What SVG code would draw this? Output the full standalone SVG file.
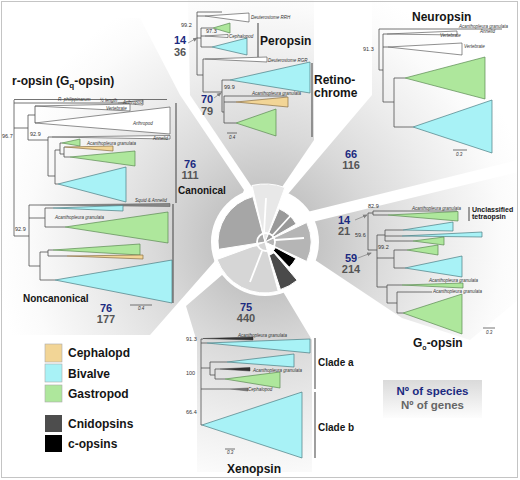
<svg xmlns="http://www.w3.org/2000/svg" width="520" height="480" viewBox="0 0 520 480">
<defs>
<radialGradient id="beamG" gradientUnits="userSpaceOnUse" cx="265" cy="242" r="270">
<stop offset="0" stop-color="#b3b3b3"/><stop offset="0.2" stop-color="#c5c5c5"/><stop offset="0.4" stop-color="#d9d9d9"/><stop offset="0.65" stop-color="#ececec"/><stop offset="0.88" stop-color="#fbfbfb"/><stop offset="1" stop-color="#fff"/>
</radialGradient>
<linearGradient id="keyG" x1="0" y1="0" x2="0" y2="1"><stop offset="0" stop-color="#dadada"/><stop offset="1" stop-color="#fdfdfd"/></linearGradient>
<marker id="ah" markerWidth="5" markerHeight="5" refX="4" refY="2.5" orient="auto" markerUnits="userSpaceOnUse"><path d="M0,0.5 L5,2.5 L0,4.5 Z" fill="#808080"/></marker>
<style>
.beam{fill:url(#beamG)}
.ln{fill:none;stroke:#505050;stroke-width:0.8}
.br{fill:none;stroke:#505050;stroke-width:1.1}
.cy{fill:#a8f2f6;stroke:#4a7c82;stroke-width:0.7}
.gr{fill:#aee79c;stroke:#5a8a52;stroke-width:0.7}
.or{fill:#f2d596;stroke:#8a7045;stroke-width:0.7}
.wt{fill:#fff;stroke:#444;stroke-width:0.6}
.dk{fill:#333;stroke:#333;stroke-width:0.5}
text{font-family:"Liberation Sans",Arial,sans-serif}
.tiny{font-size:4.5px;font-style:italic;fill:#333}
.bs{font-size:5.5px;fill:#333}
.ttl{font-size:12px;font-weight:bold;fill:#151515}
.lab{font-size:10px;font-weight:bold;fill:#151515}
.ns{font-size:11px;font-weight:bold;fill:#1b2a80;text-anchor:middle}
.ng{font-size:11px;font-weight:bold;fill:#555;text-anchor:middle}
.leg{font-size:12px;font-weight:bold;fill:#151515}
.sec{stroke:#fff;stroke-width:1}
.arr{fill:none;stroke:#808080;stroke-width:0.7;marker-end:url(#ah)}
</style>
</defs>
<rect x="0" y="0" width="520" height="480" fill="#fff"/>
<g id="beams">
<polygon class="beam" points="244,190 180,95 140,18 0,18 0,335 150,335 214,262"/>
<polygon class="beam" points="254,190 190,95 188,0 314,0 314,140 280,190"/>
<polygon class="beam" points="288,194 372,95 372,0 518,0 518,160 299,214"/>
<polygon class="beam" points="304,224 518,172 518,300 470,340 402,318 309,256"/>
<polygon class="beam" points="222,275 186,306 197,342 197,472 312,472 312,340 282,290"/>
</g>
<rect x="1.5" y="1.5" width="516" height="476" fill="none" stroke="#c4c4c4" stroke-width="1"/>
<g id="wheel">
<circle cx="265" cy="242" r="54" fill="#fff"/>
<path class="sec" fill="#a6a6a6" d="M265,242 L218.58,249.35 A47,47 0 0 1 252.84,196.6 Z"/>
<path class="sec" fill="#e8e8e8" stroke="#bbb" d="M265,242 L251.95,185.49 A58,58 0 0 1 284.84,187.5 Z"/>
<path class="sec" fill="#999" d="M265,242 L279.07,208.86 A36,36 0 0 1 296.18,224 Z"/>
<path class="sec" fill="#b5b5b5" d="M265,242 L306.69,222.56 A46,46 0 0 1 306.69,261.44 Z"/>
<path class="sec" fill="#000" d="M275.59,247.63 L295.9,258.43 A35,35 0 0 1 289.31,267.18 L273.34,250.63 Z"/>
<path class="sec" fill="#4a4a4a" d="M274,252.72 L297.14,280.3 A50,50 0 0 1 280.45,289.55 L269.33,255.32 Z"/>
<path class="sec" fill="#d6d6d6" d="M265,242 L278.2,291.26 A51,51 0 0 1 217.08,259.44 Z"/>
<g stroke="#fff" stroke-width="1.8" fill="none">
<circle cx="266" cy="242" r="9"/>
<path d="M258,245 L222,252"/>
<path d="M264,233 L266,198"/>
<path d="M272,236 L293,213"/>
<path d="M275,240 L304,238"/>
<path d="M271,249 L283,262"/>
<path d="M262,251 L250,282"/>
</g>
</g>
<g id="r-opsin">
<text class="ttl" x="12" y="85">r-opsin (G<tspan font-size="8" dy="3">q</tspan><tspan dy="-3">-opsin)</tspan></text>
<path class="ln" d="M14,100 V236 M14,99.5 H167 M14,103 H118 M14,128 H28 M28,115 V140 M28,115 H35 M35,106 V123 M28,140 H48 M48,137 V176 M48,137 H52 M48,176 H55 M55,150 V184 M55,150 H60 M60,143 V154 M60,143 H62 M60,154 H64 M64,147 V157 M64,147 H65 M64,157 H70 M55,184 H58 M14,236 H29 M29,205 V266 M29,205 H40 M29,218 H45 M45,208 V227 M45,208 H53 M45,227 H65 M29,266 H40 M40,252 V280 M40,252 H48 M48,250 V256 M48,250 H53 M48,256 H67 M40,280 H55"/>
<path class="wt" d="M118,103 L143,100 L143,105 Z"/>
<path class="wt" d="M35,106 L130,104 L130,111 Z"/>
<path class="wt" d="M35,123 L170,107 L170,134 Z"/>
<path class="wt" d="M52,137 L170,135.5 L170,139 Z"/>
<path class="gr" d="M62,143 L80,139 L80,146 Z"/>
<path class="or" d="M65,147 L113,146 L113,151 Z"/>
<path class="gr" d="M70,157 L135,151 L135,166 Z"/>
<path class="cy" d="M58,184 L126,167 L126,202 Z"/>
<path fill="#888" stroke="#555" stroke-width="0.5" d="M40,205 L170,203.5 L170,206.5 Z"/>
<path class="cy" d="M53,208 L123,205.5 L123,211 Z"/>
<path class="gr" d="M65,227 L168,212 L168,243 Z"/>
<path class="gr" d="M53,250 L140,244 L140,255 Z"/>
<path class="or" d="M67,256 L143,255 L143,259 Z"/>
<path class="cy" d="M55,280 L172,260 L172,303 Z"/>
<path class="br" d="M176,103 V203 M173,204 V303"/>
<path class="ln" d="M130,305 H152"/>
<text class="tiny" x="58" y="101">R. philippinarum</text>
<text class="tiny" x="100" y="102" font-size="3.5">½ length</text>
<text class="tiny" x="123" y="103.8" font-style="normal" font-size="4">Arthropod</text>
<text class="tiny" x="106" y="110" font-style="normal">Vertebrate</text>
<text class="tiny" x="133" y="125" font-style="normal">Arthropod</text>
<text class="tiny" x="153" y="139.8" font-style="normal">Annelid</text>
<text class="tiny" x="87" y="145">Acanthopleura granulata</text>
<text class="tiny" x="135" y="202" font-style="normal">Squid &amp; Annelid</text>
<text class="tiny" x="55" y="219">Acanthopleura granulata</text>
<text class="tiny" x="138" y="310" font-style="normal">0.4</text>
<text class="bs" x="2" y="138">96.7</text>
<text class="bs" x="30" y="136">92.9</text>
<text class="bs" x="15" y="231">92.9</text>
<text class="lab" x="178" y="194">Canonical</text>
<text class="lab" x="23" y="302">Noncanonical</text>
<text class="ns" x="190" y="168">76</text>
<text class="ng" x="190" y="179">111</text>
<text class="ns" x="106" y="312">76</text>
<text class="ng" x="106" y="323">177</text>
</g>
<g id="peropsin-retinochrome">
<path class="ln" d="M197,12 V75 M197,12 H222 M197,16 H205 M197,38 H201 M201,28 V47 M201,28 H213 M201,36 H205 M201,47 H212 M197,75 H203 M203,59 V92 M203,59 H205 M203,92 H222 M222,80 V112 M222,80 H230 M222,112 H224 M224,96 V123 M224,96 H287 M224,102 H236 M224,123 H236 M227,133 H237"/>
<path class="wt" d="M205,16 L249,13 L249,22 Z"/>
<path class="gr" d="M213,28 L230,23 L230,33 Z"/>
<path class="wt" d="M205,36 L228,34.5 L228,37.5 Z"/>
<path class="cy" d="M212,47 L247,38 L247,55 Z"/>
<path class="wt" d="M205,59 L267,57 L267,62 Z"/>
<path class="cy" d="M230,80 L310,62 L310,93 Z"/>
<path class="or" d="M236,102 L288,97 L288,107 Z"/>
<path class="gr" d="M236,123 L276,109 L276,136 Z"/>
<path class="br" d="M258,23 V57 M312,63 V137"/>
<text class="tiny" x="251" y="18.5" font-style="normal">Deuterostome RRH</text>
<text class="tiny" x="229" y="37.5" font-style="normal">Cephalopod</text>
<text class="tiny" x="268" y="61.5" font-style="normal">Deuterostome RGR</text>
<text class="tiny" x="252" y="95">Acanthopleura granulata</text>
<text class="tiny" x="229" y="139" font-style="normal">0.4</text>
<text class="bs" x="181" y="27">99.2</text>
<text class="bs" x="206" y="33">97.3</text>
<text class="bs" x="224" y="89">99.9</text>
<text class="ttl" x="260" y="45">Peropsin</text>
<text class="ttl" x="314" y="84" font-size="13">Retino-</text>
<text class="ttl" x="314" y="97" font-size="13">chrome</text>
<text class="ns" x="180" y="44">14</text>
<text class="ng" x="180" y="56">36</text>
<text class="ns" x="207" y="103">70</text>
<text class="ng" x="207" y="115">79</text>
</g>
<g id="neuropsin">
<path class="ln" d="M379,29 V70 M379,29 H502 M379,70 H383 M383,34 V102 M383,34 H387 M383,47 H388 M383,102 H394 M394,78 V127 M394,78 H405 M394,127 H413 M453,150 H467"/>
<path class="wt" d="M387,34 L457,31 L457,35 Z"/>
<path class="wt" d="M388,47 L462,43 L462,55 Z"/>
<path class="gr" d="M405,78 L485,57 L485,99 Z"/>
<path class="cy" d="M413,127 L492,100 L492,153 Z"/>
<text class="tiny" x="459" y="28">Acanthopleura granulata</text>
<text class="tiny" x="480" y="33" font-style="normal">Annelid</text>
<text class="tiny" x="440" y="37" font-style="normal">Vertebrate</text>
<text class="tiny" x="464" y="48" font-style="normal">Vertebrate</text>
<text class="tiny" x="456" y="155.5" font-style="normal">0.3</text>
<text class="bs" x="363" y="51">91.3</text>
<text class="ttl" x="412" y="21">Neuropsin</text>
<text class="ns" x="351" y="158">66</text>
<text class="ng" x="351" y="169">116</text>
</g>
<g id="go-opsin">
<path class="ln" d="M373,211 V215 M373,211 H457 M373,215 H388 M368,213 V250 M368,213 H373 M368,250 H377 M377,235 V287 M377,235 H385 M385,230 V241 M385,230 H403 M385,236 H402 M385,241 H413 M377,258 H394 M394,250 V268 M394,250 H407 M394,268 H405 M377,287 H387 M387,285 V303 M387,285 H402 M387,303 H397 M397,292 V313 M397,292 H432 M397,313 H403 M483,328 H495"/>
<path class="gr" d="M388,215 L458,211.5 L458,221 Z"/>
<path class="cy" d="M403,230 L453,222 L453,231 Z"/>
<path class="cy" d="M402,236 L482,232 L482,237 Z"/>
<path class="gr" d="M413,241 L444,237 L444,245 Z"/>
<path class="gr" d="M407,250 L438,245 L438,255 Z"/>
<path class="cy" d="M405,268 L462,256 L462,277 Z"/>
<path class="gr" d="M402,285 L463,283 L463,288 Z"/>
<path class="gr" d="M403,313 L462,294 L462,334 Z"/>
<path class="br" d="M469,207 V221"/>
<text class="tiny" x="412" y="209.5">Acanthopleura granulata</text>
<text class="tiny" x="429" y="282">Acanthopleura granulata</text>
<text class="tiny" x="433" y="292.5">Acanthopleura granulata</text>
<text class="tiny" x="486" y="333.5" font-style="normal">0.3</text>
<text class="bs" x="368" y="208">82.9</text>
<text class="bs" x="355" y="237">59.6</text>
<text class="bs" x="378" y="249">99.2</text>
<text x="472" y="212" font-size="7" font-weight="bold" fill="#151515">Unclassified</text>
<text x="472" y="219" font-size="7" font-weight="bold" fill="#151515">tetraopsin</text>
<text class="ttl" x="413" y="347">G<tspan font-size="7" dy="2.5">o</tspan><tspan dy="-2.5">-opsin</tspan></text>
<text class="ns" x="344" y="224">14</text>
<text class="ng" x="344" y="235">21</text>
<text class="ns" x="351" y="262">59</text>
<text class="ng" x="351" y="273">214</text>
</g>
<g id="xenopsin">
<path class="ln" d="M201,339 V425 M201,339 H203 M201,343 H207 M201,368 H210 M210,362 V375 M210,362 H227 M210,375 H215 M215,369 V379 M215,369 H220 M215,379 H225 M201,389 H230 M201,425 H202 M225,449 H235"/>
<path class="dk" d="M203,338.5 L253,337 L253,340 Z"/>
<path class="cy" d="M207,343 L310,339 L310,353 Z"/>
<path class="cy" d="M227,362 L294,354 L294,367 Z"/>
<path class="dk" d="M220,369 L250,367.5 L250,371 Z"/>
<path class="gr" d="M225,379 L280,372 L280,388 Z"/>
<path fill="#777" stroke="#555" stroke-width="0.5" d="M230,389 L248,388 L248,391 Z"/>
<path class="cy" d="M202,425 L302,392 L302,458 Z"/>
<path class="br" d="M315,338 V389 M315,392 V458"/>
<text class="tiny" x="238" y="336.5">Acanthopleura granulata</text>
<text class="tiny" x="253" y="371.5">Acanthopleura granulata</text>
<text class="tiny" x="248" y="391" font-style="normal">Cephalopod</text>
<text class="tiny" x="227" y="454" font-style="normal">0.3</text>
<text class="bs" x="186" y="341">91.3</text>
<text class="bs" x="186" y="375">100</text>
<text class="bs" x="186" y="414">66.4</text>
<text class="lab" x="318" y="366">Clade a</text>
<text class="lab" x="318" y="431">Clade b</text>
<text class="ttl" x="227" y="473">Xenopsin</text>
<text class="ns" x="246" y="311">75</text>
<text class="ng" x="246" y="322">440</text>
</g>
<g id="connectors">
<path class="arr" d="M188,43 L197,38"/>
<path class="arr" d="M214,98 L221,93"/>
<path class="arr" d="M355,220 L367,215"/>
<path class="arr" d="M358,258 L371,253"/>
</g>
<g id="legend">
<rect x="45" y="344" width="17" height="18" fill="#f2d596" stroke="#aaa" stroke-width="0.6"/>
<rect x="45" y="364" width="17" height="18" fill="#a8f2f6" stroke="#aaa" stroke-width="0.6"/>
<rect x="45" y="385" width="17" height="17" fill="#aee79c" stroke="#aaa" stroke-width="0.6"/>
<rect x="45" y="415" width="17" height="17" fill="#4d4d4d"/>
<rect x="45" y="435" width="17" height="17" fill="#000"/>
<text class="leg" x="68" y="357">Cephalopd</text>
<text class="leg" x="68" y="378">Bivalve</text>
<text class="leg" x="68" y="398">Gastropod</text>
<text class="leg" x="68" y="428">Cnidopsins</text>
<text class="leg" x="68" y="448">c-opsins</text>
</g>
<g id="count-key">
<rect x="383" y="380" width="99" height="38" fill="url(#keyG)"/>
<text x="432.5" y="395" font-size="11.5" font-weight="bold" fill="#1b2a80" text-anchor="middle">Nº of species</text>
<text x="432.5" y="409" font-size="11.5" font-weight="bold" fill="#666" text-anchor="middle">Nº of genes</text>
</g>
</svg>
